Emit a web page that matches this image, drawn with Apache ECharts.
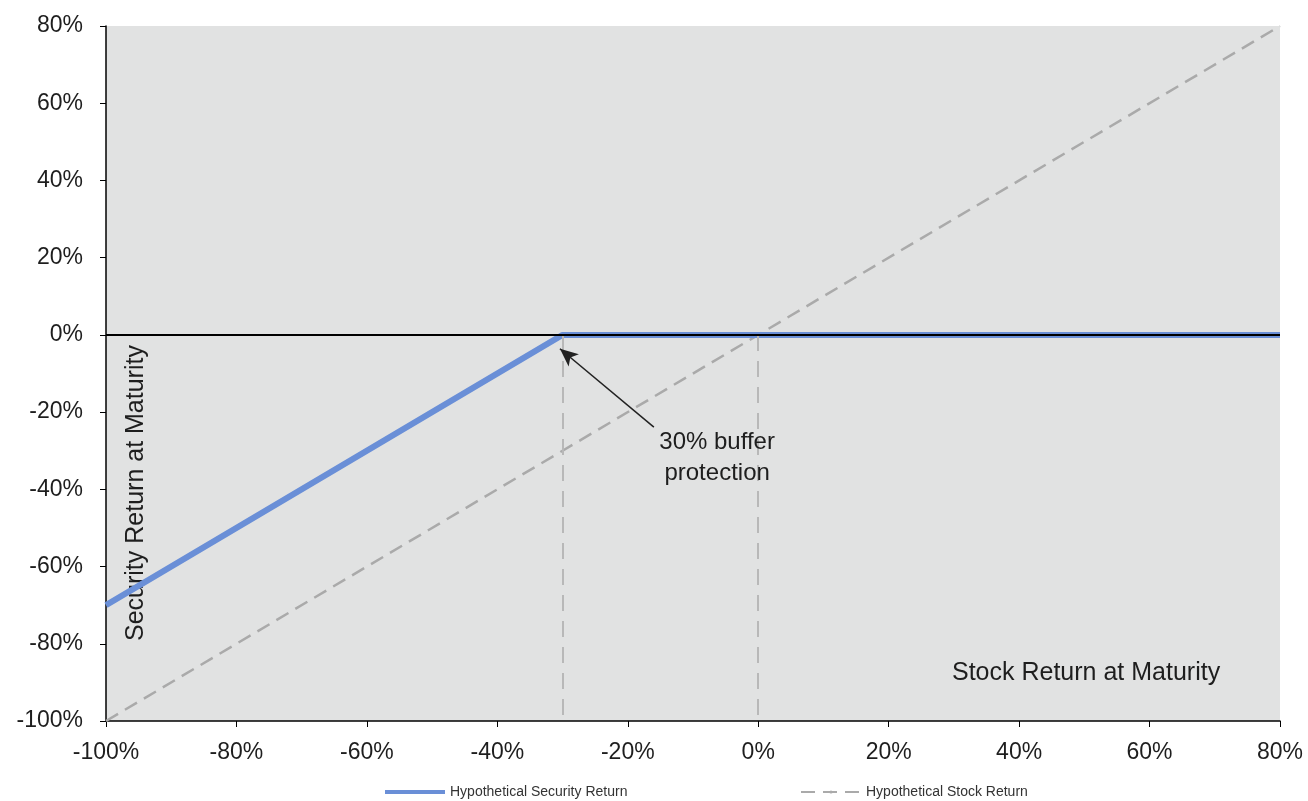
<!DOCTYPE html>
<html><head><meta charset="utf-8">
<script src="https://cdn.jsdelivr.net/npm/echarts@6/dist/echarts.min.js"></script>
<style>html,body{margin:0;padding:0;background:#fff}#c{width:1308px;height:801px}</style>
</head><body><div id="c"></div>
<script>
const stockReturn = [-100, -30, 0, 80];
const securityReturn = [-70, 0, 0, 0];
const stockLine = [-100, -30, 0, 80];
const xTicks = [-100, -80, -60, -40, -20, 0, 20, 40, 60, 80];
const yTicks = [-100, -80, -60, -40, -20, 0, 20, 40, 60, 80];
const bufferLevel = -30;
const seriesNames = ['Hypothetical Security Return', 'Hypothetical Stock Return'];

const chart = echarts.init(document.getElementById('c'));
const font = 'Liberation Sans, Arial, sans-serif';
const txt = '#1e1e1e';
chart.setOption({
  animation: false,
  textStyle: {fontFamily: font},
  grid: {left: 106, right: 28, top: 26, bottom: 80, show: true, backgroundColor: '#e1e2e2', borderWidth: 0},
  legend: [
    {top: 780, left: 380, itemWidth: 60, itemHeight: 4,
     textStyle: {fontSize: 14, color: '#333', fontFamily: font},
     data: [{name: seriesNames[0], icon: 'rect'}]},
    {top: 780, left: 795, itemWidth: 60, itemHeight: 4,
     textStyle: {fontSize: 14, color: '#333', fontFamily: font},
     data: [{name: seriesNames[1]}]}
  ],
  xAxis: {
    type: 'value', min: xTicks[0], max: xTicks[xTicks.length-1], interval: 20,
    axisLine: {onZero: false, lineStyle: {color: '#000', width: 1.5}},
    axisTick: {show: true, length: 6, lineStyle: {color: '#000'}},
    splitLine: {show: false},
    axisLabel: {formatter: v => v + '%', fontSize: 23, color: txt, margin: 20}
  },
  yAxis: {
    type: 'value', min: yTicks[0], max: yTicks[yTicks.length-1], interval: 20,
    axisLine: {show: true, onZero: false, lineStyle: {color: '#000', width: 1.5}},
    axisTick: {show: true, length: 6, lineStyle: {color: '#000'}},
    splitLine: {show: false},
    axisLabel: {formatter: v => v + '%', fontSize: 23, color: txt, margin: 23}
  },
  graphic: [
    {type: 'text', left: 952, top: 661, style: {text: 'Stock Return at Maturity', fontSize: 25, fill: txt, fontFamily: font}},
    {type: 'text', x: 124, y: 641, rotation: Math.PI/2, style: {text: 'Security Return at Maturity', fontSize: 25, fill: txt, fontFamily: font}}
  ],
  series: [
    {
      name: seriesNames[1], type: 'line', symbol: 'none', z: 2,
      data: stockReturn.map((x, i) => [x, stockLine[i]]),
      lineStyle: {color: '#aaaaaa', width: 2.5, type: [14, 8]},
      itemStyle: {color: '#aaaaaa'},
      markLine: {
        silent: true, symbol: 'none', label: {show: false},
        lineStyle: {color: '#b8b8b8', width: 2, type: [16, 10]},
        data: [
          [{coord: [bufferLevel, 0]}, {coord: [bufferLevel, -100]}],
          [{coord: [0, 0]}, {coord: [0, -100]}]
        ]
      }
    },
    {
      name: seriesNames[0], type: 'line', symbol: 'none', z: 3,
      data: stockReturn.map((x, i) => [x, securityReturn[i]]),
      lineStyle: {color: '#6a8fd7', width: 6},
      itemStyle: {color: '#6a8fd7'},
      markLine: {
        silent: true, label: {show: false}, z: 5,
        data: [
          [{coord: [-100, 0], symbol: 'none', lineStyle: {color: '#000', width: 2, type: 'solid'}}, {coord: [80, 0], symbol: 'none'}],
          [{coord: [-16, -23.9], symbol: 'none', lineStyle: {color: '#222', width: 1.5, type: 'solid'}}, {coord: [-30.4, -3.6], symbol: 'arrow', symbolSize: [12, 18]}]
        ]
      },
      markPoint: {
        silent: true, symbol: 'circle', symbolSize: 0,
        data: [{coord: [-6.3, -31.8], label: {show: true, formatter: '30% buffer\nprotection', fontSize: 24, color: txt, lineHeight: 31, align: 'center', verticalAlign: 'middle', position: 'inside'}}]
      }
    }
  ]
});
</script></body></html>
